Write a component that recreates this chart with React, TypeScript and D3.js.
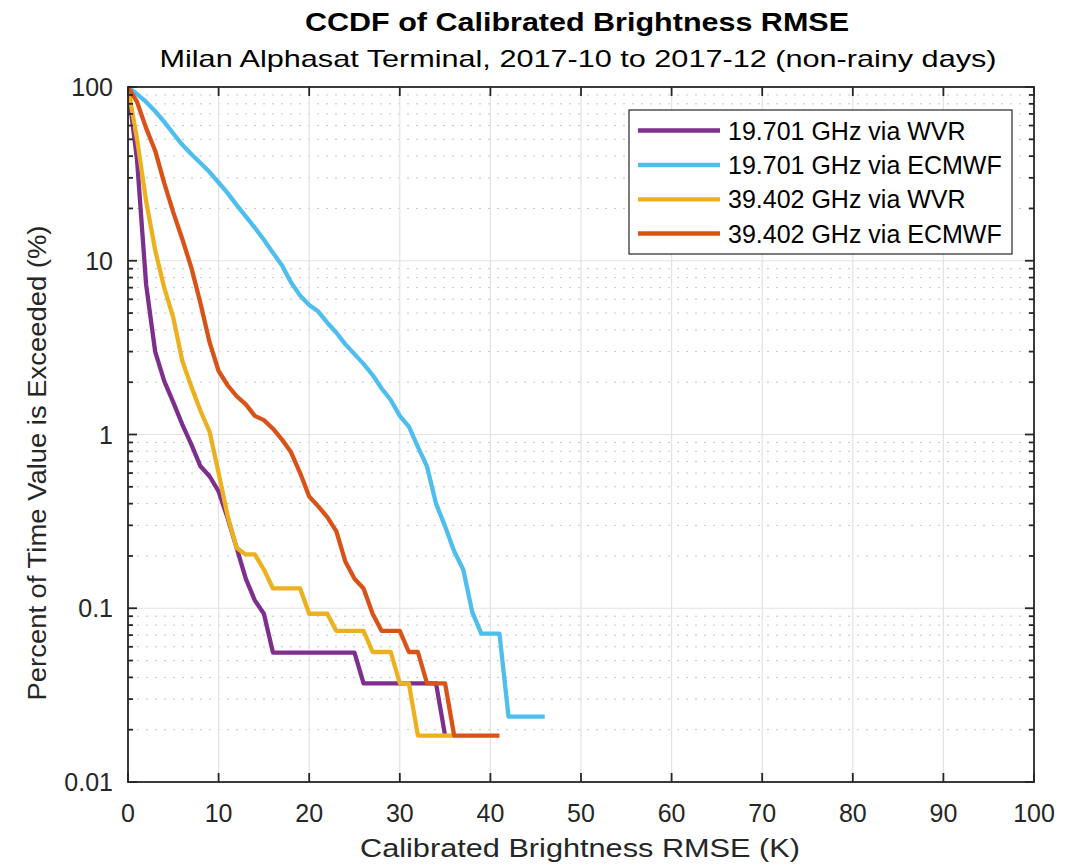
import React from "react";
import * as d3 from "d3";

const xTicks = [0, 10, 20, 30, 40, 50, 60, 70, 80, 90, 100];
const yTicks = [0.01, 0.1, 1, 10, 100];
const yTickLabels = ["0.01", "0.1", "1", "10", "100"];

const seriesNames = [
  "19.701 GHz via WVR",
  "19.701 GHz via ECMWF",
  "39.402 GHz via WVR",
  "39.402 GHz via ECMWF",
];
const seriesColors = ["#7E2F8E", "#4DBEEE", "#EDB120", "#D95319"];

const wvr19 = [
  100, 38, 7.3, 3.0, 2.03, 1.53, 1.14, 0.875, 0.656, 0.575, 0.47, 0.33, 0.222, 0.148, 0.111, 0.093,
  0.0556, 0.0556, 0.0556, 0.0556, 0.0556, 0.0556, 0.0556, 0.0556, 0.0556, 0.0556,
  0.037, 0.037, 0.037, 0.037, 0.037, 0.037, 0.037, 0.037, 0.037,
  0.0185,
];
const ecmwf19 = [
  100, 91, 82, 72.5, 63, 54, 46.5, 41, 36.5, 32.4, 28.2, 24.5, 20.9, 18, 15.5, 13.2, 11.1, 9.4, 7.5,
  6.3, 5.56, 5.1, 4.4, 3.85, 3.3, 2.9, 2.55, 2.2, 1.84, 1.58, 1.28, 1.11, 0.85, 0.656, 0.4, 0.296,
  0.213, 0.167, 0.095, 0.0714, 0.0714, 0.0714, 0.0238, 0.0238, 0.0238, 0.0238, 0.0238,
];
const wvr39 = [
  100, 50, 22, 11.5, 7.0, 4.7, 2.65, 1.88, 1.37, 1.04, 0.6, 0.34, 0.222, 0.204, 0.204, 0.167,
  0.13, 0.13, 0.13, 0.13, 0.093, 0.093, 0.093, 0.074, 0.074, 0.074, 0.074, 0.056, 0.056, 0.056,
  0.037, 0.037, 0.0185, 0.0185, 0.0185, 0.0185, 0.0185,
];
const ecmwf39 = [
  100, 82, 58, 43, 28, 19, 13.3, 9.1, 5.7, 3.4, 2.32, 1.92, 1.66, 1.49, 1.28, 1.21, 1.08, 0.935,
  0.79, 0.6, 0.44, 0.386, 0.335, 0.277, 0.185, 0.148, 0.13, 0.093, 0.074, 0.074, 0.074, 0.056,
  0.056, 0.037, 0.037, 0.037, 0.0185, 0.0185, 0.0185, 0.0185, 0.0185, 0.0185,
];
const allSeries = [wvr19, ecmwf19, wvr39, ecmwf39];

const W = 1081;
const H = 867;
const L = 128;
const R = 1034;
const T = 87;
const B = 782;
const axisColor = "#262626";
const FONT = "'Liberation Sans', Arial, Helvetica, sans-serif";

export default function App() {
  const x = d3.scaleLinear().domain([0, 100]).range([L, R]);
  const y = d3.scaleLog().domain([0.01, 100]).range([B, T]);

  const minorY: number[] = [];
  for (let e = -2; e < 2; e++) {
    for (let m = 2; m <= 9; m++) minorY.push(m * Math.pow(10, e));
  }

  const line = d3
    .line<number>()
    .x((_, i) => x(i))
    .y((d) => y(d));

  const legendX = 629;
  const legendY = 110;
  const legendW = 383;
  const legendH = 144;
  const rowY = [130.5, 165, 199.3, 233.5];

  return (
    <svg
      width={W}
      height={H}
      style={{ position: "absolute", left: 0, top: 0, background: "#fff" }}
      fontFamily={FONT}
    >
      <rect x={0} y={0} width={W} height={H} fill="#fff" />
      {/* minor y grid */}
      {minorY.map((v, i) => (
        <line
          key={"mg" + i}
          x1={L}
          x2={R}
          y1={y(v)}
          y2={y(v)}
          stroke="#c4c4c4"
          strokeWidth={1}
          strokeDasharray="2,7"
        />
      ))}
      {/* major grid */}
      {xTicks.slice(1, -1).map((t) => (
        <line key={"gx" + t} x1={x(t)} x2={x(t)} y1={T} y2={B} stroke="#e3e3e3" strokeWidth={1.2} />
      ))}
      {yTicks.slice(1, -1).map((t) => (
        <line key={"gy" + t} x1={L} x2={R} y1={y(t)} y2={y(t)} stroke="#e3e3e3" strokeWidth={1.2} />
      ))}

      {/* data lines */}
      <defs>
        <clipPath id="plotclip">
          <rect x={L} y={T - 3} width={R - L} height={B - T + 3} />
        </clipPath>
      </defs>
      <g clipPath="url(#plotclip)">
        {allSeries.map((s, i) => (
          <path
            key={"s" + i}
            d={line(s) || ""}
            fill="none"
            stroke={seriesColors[i]}
            strokeWidth={4.3}
            strokeLinejoin="round"
          />
        ))}
      </g>

      {/* axes box */}
      <rect x={L} y={T} width={R - L} height={B - T} fill="none" stroke={axisColor} strokeWidth={1.8} />

      {/* x ticks */}
      {xTicks.map((t) => (
        <g key={"xt" + t}>
          <line x1={x(t)} x2={x(t)} y1={B} y2={B - 9} stroke={axisColor} strokeWidth={1.8} />
          <line x1={x(t)} x2={x(t)} y1={T} y2={T + 9} stroke={axisColor} strokeWidth={1.8} />
          <text x={x(t)} y={822} textAnchor="middle" fontSize={25} fill={axisColor}>
            {t}
          </text>
        </g>
      ))}
      {/* y ticks */}
      {yTicks.map((t, i) => (
        <g key={"yt" + t}>
          <line x1={L} x2={L + 9} y1={y(t)} y2={y(t)} stroke={axisColor} strokeWidth={1.8} />
          <line x1={R} x2={R - 9} y1={y(t)} y2={y(t)} stroke={axisColor} strokeWidth={1.8} />
          <text
            x={113}
            y={y(t)}
            dy="0.36em"
            textAnchor="end"
            fontSize={25}
            fill={axisColor}
          >
            {yTickLabels[i]}
          </text>
        </g>
      ))}
      {minorY.map((v, i) => (
        <g key={"ym" + i}>
          <line x1={L} x2={L + 5} y1={y(v)} y2={y(v)} stroke={axisColor} strokeWidth={1.8} />
          <line x1={R} x2={R - 5} y1={y(v)} y2={y(v)} stroke={axisColor} strokeWidth={1.8} />
        </g>
      ))}

      {/* titles */}
      <text
        x={577}
        y={31}
        textAnchor="middle"
        fontSize={25}
        fontWeight="bold"
        fill="#000"
        textLength={544}
        lengthAdjust="spacingAndGlyphs"
      >
        CCDF of Calibrated Brightness RMSE
      </text>
      <text
        x={578}
        y={67}
        textAnchor="middle"
        fontSize={24}
        fill="#000"
        textLength={837}
        lengthAdjust="spacingAndGlyphs"
      >
        Milan Alphasat Terminal, 2017-10 to 2017-12 (non-rainy days)
      </text>
      <text
        x={580}
        y={857}
        textAnchor="middle"
        fontSize={25}
        fill={axisColor}
        textLength={440}
        lengthAdjust="spacingAndGlyphs"
      >
        Calibrated Brightness RMSE (K)
      </text>
      <text
        transform={`translate(46,463) rotate(-90)`}
        textAnchor="middle"
        fontSize={25}
        fill={axisColor}
        textLength={475}
        lengthAdjust="spacingAndGlyphs"
      >
        Percent of Time Value is Exceeded (%)
      </text>

      {/* legend */}
      <rect
        x={legendX}
        y={legendY}
        width={legendW}
        height={legendH}
        fill="#fff"
        stroke={axisColor}
        strokeWidth={1.2}
      />
      {seriesNames.map((n, i) => (
        <g key={"lg" + i}>
          <line x1={638} x2={720} y1={rowY[i]} y2={rowY[i]} stroke={seriesColors[i]} strokeWidth={4.3} />
          <text x={728} y={rowY[i]} dy="0.36em" fontSize={25} fill="#000">
            {n}
          </text>
        </g>
      ))}
    </svg>
  );
}
